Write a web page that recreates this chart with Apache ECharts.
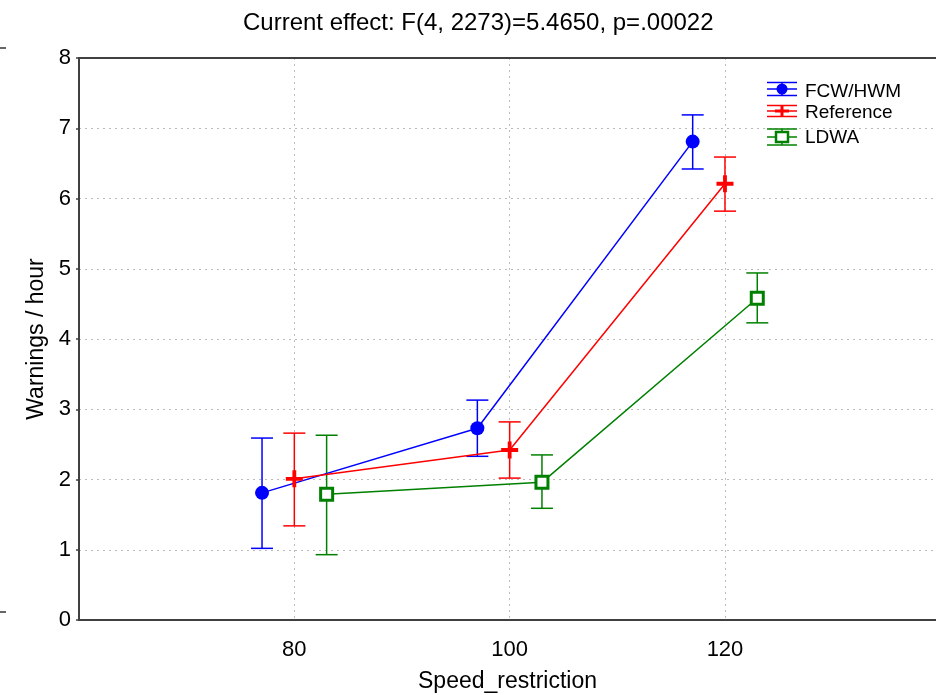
<!DOCTYPE html>
<html><head><meta charset="utf-8">
<script src="https://cdn.jsdelivr.net/npm/echarts@6/dist/echarts.min.js"></script>
<style>html,body{margin:0;padding:0;background:#fff;overflow:hidden}#c{width:936px;height:695px}</style>
</head><body><div id="c"></div>
<script>
var speeds = [80, 100, 120];
var seriesNames = ['FCW/HWM', 'Reference', 'LDWA'];
var fcwMean = [1.81, 2.73, 6.81];
var fcwLow  = [1.02, 2.33, 6.42];
var fcwHigh = [2.59, 3.13, 7.19];
var refMean = [2.01, 2.42, 6.21];
var refLow  = [1.34, 2.02, 5.82];
var refHigh = [2.66, 2.82, 6.59];
var ldwMean = [1.79, 1.96, 4.58];
var ldwLow  = [0.93, 1.59, 4.23];
var ldwHigh = [2.63, 2.35, 4.94];
var yTicks = [0, 1, 2, 3, 4, 5, 6, 7, 8];

var colors = ['#0000ff', '#ff0000', '#008000'];
var dodge = [-3, 0, 3];
var FONT = 'Liberation Sans, Arial, sans-serif';

var groups = [
  {mean: fcwMean, low: fcwLow, high: fcwHigh},
  {mean: refMean, low: refLow, high: refHigh},
  {mean: ldwMean, low: ldwLow, high: ldwHigh}
];
var plusPath = 'path://M6.2,0h3.6v16h-3.6z M0,6.2h16v3.6h-16z';
var symbols = ['circle', plusPath, 'rect'];
var symSizes = [14, 17, 12];

var series = [];
groups.forEach(function (g, i) {
  var errData = speeds.map(function (s, k) { return [s + dodge[i], g.low[k], g.high[k]]; });
  series.push({
    type: 'custom', name: seriesNames[i] + ' err', z: 2,
    data: errData,
    encode: {x: 0, y: [1, 2]},
    renderItem: function (params, api) {
      var x = api.value(0);
      var lo = api.coord([x, api.value(1)]);
      var hi = api.coord([x, api.value(2)]);
      var w = 11;
      var st = {stroke: colors[i], lineWidth: 1.5};
      return {type: 'group', children: [
        {type: 'line', shape: {x1: lo[0], y1: lo[1], x2: hi[0], y2: hi[1]}, style: st},
        {type: 'line', shape: {x1: lo[0] - w, y1: lo[1], x2: lo[0] + w, y2: lo[1]}, style: st},
        {type: 'line', shape: {x1: hi[0] - w, y1: hi[1], x2: hi[0] + w, y2: hi[1]}, style: st}
      ]};
    }
  });
  series.push({
    type: 'line', name: seriesNames[i], z: 3,
    data: speeds.map(function (s, k) { return [s + dodge[i], g.mean[k]]; }),
    symbol: symbols[i], symbolSize: symSizes[i],
    lineStyle: {color: colors[i], width: 1.5},
    itemStyle: i === 2 ? {color: '#fff', borderColor: colors[i], borderWidth: 3}
                       : {color: colors[i], borderWidth: 0},
    emphasis: {disabled: true},
    animation: false
  });
});

// legend graphics
var legendG = [];
var legY = [89, 111, 137];
var legH = [6.5, 5.5, 8];
var legTextY = [92, 113, 138];
groups.forEach(function (g, i) {
  var cx = 782, cy = legY[i], h = legH[i], c = colors[i];
  var st = {stroke: c, lineWidth: 1.5};
  legendG.push({type: 'line', shape: {x1: cx - 15, y1: cy - h, x2: cx + 15, y2: cy - h}, style: st});
  legendG.push({type: 'line', shape: {x1: cx - 15, y1: cy + h, x2: cx + 15, y2: cy + h}, style: st});
  legendG.push({type: 'line', shape: {x1: cx, y1: cy - h, x2: cx, y2: cy + h}, style: st});
  legendG.push({type: 'line', shape: {x1: cx - 15, y1: cy, x2: cx + 15, y2: cy}, style: st});
  if (i === 0) legendG.push({type: 'circle', shape: {cx: cx, cy: cy, r: 5.5}, style: {fill: c}});
  if (i === 1) {
    legendG.push({type: 'rect', shape: {x: cx - 1.5, y: cy - 5.5, width: 3, height: 11}, style: {fill: c}});
    legendG.push({type: 'rect', shape: {x: cx - 7, y: cy - 1.5, width: 14, height: 3}, style: {fill: c}});
  }
  if (i === 2) legendG.push({type: 'rect', shape: {x: cx - 6, y: cy - 5, width: 12, height: 10}, style: {fill: '#fff', stroke: c, lineWidth: 2.5}});
  legendG.push({type: 'text', x: 805, y: legTextY[i], style: {text: seriesNames[i], font: '19px ' + FONT, fill: '#000', textVerticalAlign: 'middle'}});
});
legendG.push({type: 'line', shape: {x1: 0, y1: 48, x2: 6, y2: 48}, style: {stroke: '#333', lineWidth: 1.5}});
legendG.push({type: 'line', shape: {x1: 0, y1: 612, x2: 6, y2: 612}, style: {stroke: '#333', lineWidth: 1.5}});
legendG.forEach(function (e) { e.z = 10; });

var chart = echarts.init(document.getElementById('c'), null, {renderer: 'canvas', width: 936, height: 695});
chart.setOption({
  backgroundColor: '#fff',
  animation: false,
  title: {
    text: 'Current effect: F(4, 2273)=5.4650, p=.00022',
    left: 238, top: 6,
    textStyle: {fontFamily: FONT, fontSize: 24, fontWeight: 'normal', color: '#000'}
  },
  grid: {left: 79, top: 58, height: 562, width: 857, containLabel: false, outerBoundsMode: 'none'},
  xAxis: [{
    type: 'value', min: 60, max: 139.6, interval: 20,
    name: 'Speed_restriction', nameLocation: 'middle', nameGap: 50,
    nameTextStyle: {fontFamily: FONT, fontSize: 23, color: '#000'},
    axisLine: {show: true, lineStyle: {color: '#404040', width: 2}},
    axisTick: {show: false},
    axisLabel: {fontFamily: FONT, fontSize: 22, color: '#000', margin: 19,
      formatter: function (v) { return speeds.indexOf(v) >= 0 ? String(v) : ''; }},
    splitLine: {show: true, lineStyle: {color: '#bbb', type: [2, 4], width: 1}}
  }, {
    type: 'value', position: 'top', min: 60, max: 139.6,
    axisLine: {show: true, lineStyle: {color: '#404040', width: 2}},
    axisTick: {show: false}, axisLabel: {show: false}, splitLine: {show: false}
  }],
  yAxis: {
    type: 'value', min: 0, max: 8, interval: 1,
    name: 'Warnings / hour', nameLocation: 'middle', nameGap: 31,
    nameTextStyle: {fontFamily: FONT, fontSize: 23, color: '#000'},
    axisLine: {show: true, lineStyle: {color: '#404040', width: 2}},
    axisTick: {show: true, length: 3, lineStyle: {color: '#404040', width: 1.5}},
    axisLabel: {fontFamily: FONT, fontSize: 22, color: '#000', margin: 8,
      formatter: function (v) { return yTicks.indexOf(v) >= 0 ? String(v) : ''; }},
    splitLine: {show: true, lineStyle: {color: '#bbb', type: [2, 4], width: 1}}
  },
  graphic: legendG,
  series: series
});
</script></body></html>
